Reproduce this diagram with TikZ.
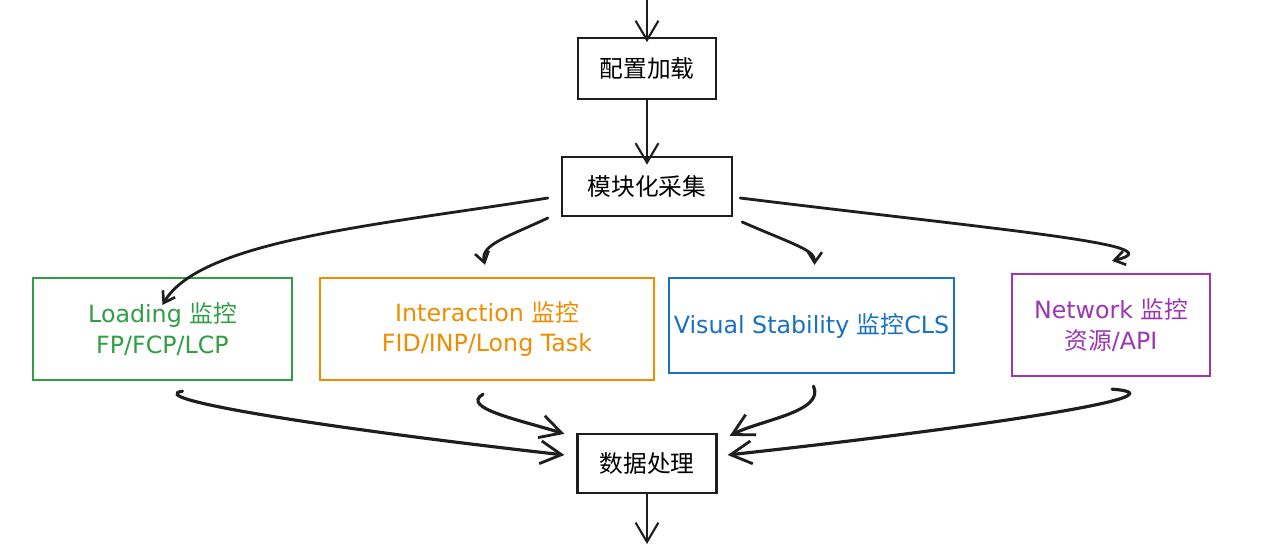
\documentclass[tikz,border=0pt]{standalone}
\usepackage{fontspec}
\setmainfont{DejaVu Sans}
\newfontfamily\cjk{Noto Sans CJK SC}
\usetikzlibrary{arrows.meta}
\definecolor{cgreen}{HTML}{2F9E44}
\definecolor{corange}{HTML}{F08C00}
\definecolor{cblue}{HTML}{1971C2}
\definecolor{cpurple}{HTML}{9C36B5}
\definecolor{cink}{HTML}{1E1E1E}
\tikzset{
  box/.style={draw=cink, line width=1.3pt, rectangle, inner sep=0pt, align=center, font=\fontsize{13.5}{17.5}\selectfont},
  cbox/.style={box, draw=#1, text=#1},
  conn/.style={draw=cink, line width=1.3pt, line cap=round, -{Straight Barb[length=11pt,width=13pt,line width=1.2pt]}},
  fan/.style={draw=cink, line width=1.6pt, line cap=round, -{Straight Barb[length=6pt,width=8pt,line width=1.5pt]}},
  merge/.style={draw=cink, line width=1.8pt, line cap=round, -{Straight Barb[length=12pt,width=13pt,line width=1.6pt]}},
}
\begin{document}
\begin{tikzpicture}[x=0.02cm,y=-0.02cm]
\useasboundingbox (0,0) rectangle (1280,544);
\fill[white] (0,0) rectangle (1280,544);
\coordinate (topin) at (647,-4);
\coordinate (botout) at (647,544);
\node[box, minimum width=138*0.02cm, minimum height=61*0.02cm] (config) at (647,68.5) {\cjk 配置加载};
\node[box, minimum width=170*0.02cm, minimum height=59*0.02cm] (collect) at (647,186.5) {\cjk 模块化采集};
\node[cbox=cgreen, minimum width=259*0.02cm, minimum height=102*0.02cm] (load) at (162.5,329) {Loading {\cjk 监控}\\FP/FCP/LCP};
\node[cbox=corange, minimum width=334*0.02cm, minimum height=102*0.02cm] (inter) at (487,329) {Interaction {\cjk 监控}\\FID/INP/Long Task};
\node[cbox=cblue, minimum width=285*0.02cm, minimum height=95*0.02cm] (visual) at (811.5,325.5) {Visual Stability {\cjk 监控}CLS};
\node[cbox=cpurple, minimum width=198*0.02cm, minimum height=102*0.02cm] (net) at (1111,325) {Network {\cjk 监控}\\{\cjk 资源}/API};
\node[box, minimum width=139*0.02cm, minimum height=59*0.02cm] (proc) at (647,463.5) {\cjk 数据处理};

\draw[conn] (topin) -- ([yshift=-3]config.north);
\draw[conn] (config.south) -- ([yshift=-5]collect.north);
\draw[conn] (proc.south) -- (botout);

\draw[fan] ([shift={(-13,11.5)}]collect.west) .. controls (380,225) and (200,240) .. ([yshift=-16]load.north);
\draw[fan] ([shift={(-13,31.5)}]collect.west) .. controls (505,238) and (480,245) .. ([shift={(-2,-12)}]inter.north);
\draw[fan] ([shift={(9,35.5)}]collect.east) .. controls (795,245) and (815,250) .. ([shift={(3,-12)}]visual.north);
\draw[fan] ([shift={(7,11.5)}]collect.east) .. controls (1000,230) and (1180,245) .. ([shift={(1,-12)}]net.north);

\draw[merge] ([shift={(20,10)}]load.south) .. controls (145,398) and (300,425) .. ([shift={(-12,-8.5)}]proc.west);
\draw[merge] ([shift={(-4,13)}]inter.south) .. controls (460,408) and (520,420) .. ([shift={(-12,1)}]proc.north west);
\draw[merge] ([shift={(2,12)}]visual.south) .. controls (825,412) and (760,420) .. ([shift={(12,3)}]proc.north east);
\draw[merge] ([shift={(1,12)}]net.south) .. controls (1190,395) and (1000,425) .. ([shift={(10,-8.5)}]proc.east);
\end{tikzpicture}
\end{document}
